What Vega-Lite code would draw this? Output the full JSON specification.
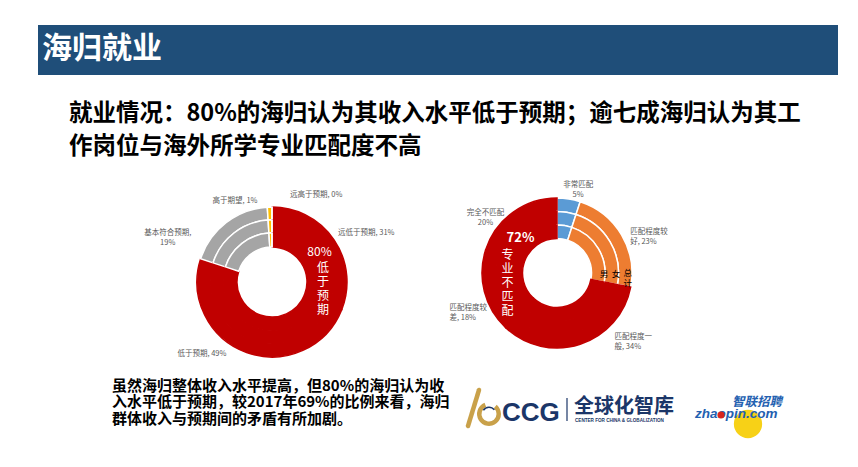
{
"$schema": "https://vega.github.io/schema/vega-lite/v6.json",
"background": "white",
"padding": {"left": 38, "top": 25, "right": 0, "bottom": 0},
"spacing": 0,
"resolve": {"scale": {"fill": "independent", "stroke": "independent", "theta": "independent"}},
"config": {"view": {"stroke": null, "fill": "white"}, "font": "Noto Sans CJK SC", "text": {"font": "Noto Sans CJK SC"}},
"datasets": {
 "income": [
  {"ring": "总计", "cat": "远低于预期", "idx": 1, "value": 31, "label": "远低于预期, 31%"},
  {"ring": "总计", "cat": "低于预期", "idx": 2, "value": 49, "label": "低于预期, 49%"},
  {"ring": "总计", "cat": "基本符合预期", "idx": 3, "value": 19, "label": "基本符合预期,\n19%"},
  {"ring": "总计", "cat": "高于期望", "idx": 4, "value": 1, "label": "高于期望, 1%"},
  {"ring": "总计", "cat": "远高于预期", "idx": 5, "value": 0, "label": "远高于预期, 0%"},
  {"ring": "女", "cat": "远低于预期", "idx": 1, "value": 31, "label": ""},
  {"ring": "女", "cat": "低于预期", "idx": 2, "value": 49, "label": ""},
  {"ring": "女", "cat": "基本符合预期", "idx": 3, "value": 19, "label": ""},
  {"ring": "女", "cat": "高于期望", "idx": 4, "value": 1, "label": ""},
  {"ring": "女", "cat": "远高于预期", "idx": 5, "value": 0, "label": ""},
  {"ring": "男", "cat": "远低于预期", "idx": 1, "value": 31, "label": ""},
  {"ring": "男", "cat": "低于预期", "idx": 2, "value": 49, "label": ""},
  {"ring": "男", "cat": "基本符合预期", "idx": 3, "value": 19, "label": ""},
  {"ring": "男", "cat": "高于期望", "idx": 4, "value": 1, "label": ""},
  {"ring": "男", "cat": "远高于预期", "idx": 5, "value": 0, "label": ""}
 ],
 "match": [
  {"ring": "总计", "cat": "非常匹配", "idx": 1, "value": 5, "label": "非常匹配\n5%"},
  {"ring": "总计", "cat": "匹配程度较好", "idx": 2, "value": 23, "label": "匹配程度较\n好, 23%"},
  {"ring": "总计", "cat": "匹配程度一般", "idx": 3, "value": 34, "label": "匹配程度一\n般, 34%"},
  {"ring": "总计", "cat": "匹配程度较差", "idx": 4, "value": 18, "label": "匹配程度较\n差, 18%"},
  {"ring": "总计", "cat": "完全不匹配", "idx": 5, "value": 20, "label": "完全不匹配\n20%"},
  {"ring": "女", "cat": "非常匹配", "idx": 1, "value": 5, "label": ""},
  {"ring": "女", "cat": "匹配程度较好", "idx": 2, "value": 23, "label": ""},
  {"ring": "女", "cat": "匹配程度一般", "idx": 3, "value": 34, "label": ""},
  {"ring": "女", "cat": "匹配程度较差", "idx": 4, "value": 18, "label": ""},
  {"ring": "女", "cat": "完全不匹配", "idx": 5, "value": 20, "label": ""},
  {"ring": "男", "cat": "非常匹配", "idx": 1, "value": 5, "label": ""},
  {"ring": "男", "cat": "匹配程度较好", "idx": 2, "value": 23, "label": ""},
  {"ring": "男", "cat": "匹配程度一般", "idx": 3, "value": 34, "label": ""},
  {"ring": "男", "cat": "匹配程度较差", "idx": 4, "value": 18, "label": ""},
  {"ring": "男", "cat": "完全不匹配", "idx": 5, "value": 20, "label": ""}
 ]
},
"vconcat": [
 {
  "width": 800, "height": 50,
  "view": {"fill": "#1F4E79", "stroke": null},
  "data": {"values": [{"t": "海归就业"}]},
  "mark": {"type": "text", "x": 4, "y": 24, "align": "left", "baseline": "middle", "fontSize": 30, "fontWeight": "bold", "color": "white"},
  "encoding": {"text": {"field": "t", "type": "nominal"}}
 },
 {
  "width": 800, "height": 105,
  "data": {"values": [{"t": "就业情况：80%的海归认为其收入水平低于预期；逾七成海归认为其工\n作岗位与海外所学专业匹配度不高"}]},
  "mark": {"type": "text", "x": 31, "y": 38.5, "align": "left", "baseline": "middle", "fontSize": 23.5, "fontWeight": "bold", "lineHeight": 33, "lineBreak": "\n", "color": "#000000"},
  "encoding": {"text": {"field": "t", "type": "nominal"}}
 },
 {
  "spacing": 0,
  "resolve": {"scale": {"fill": "independent", "stroke": "independent", "theta": "independent"}},
  "hconcat": [
   {"width": 104, "height": 1, "data": {"values": []}, "mark": "rect"},
   {
    "spacing": 0,
    "vconcat": [
     {"width": 260, "height": 10, "data": {"values": []}, "mark": "rect"},
     {
      "width": 260, "height": 184,
      "data": {"name": "income"},
      "layer": [
       {"transform": [{"filter": "datum.ring === '总计'"}],
        "mark": {"type": "arc", "radius": 75, "radius2": 62, "strokeWidth": 1.5},
        "encoding": {
         "theta": {"field": "value", "type": "quantitative", "stack": true},
         "order": {"field": "idx", "type": "quantitative"},
         "fill": {"field": "cat", "type": "nominal", "scale": {"domain": ["远低于预期","低于预期","基本符合预期","高于期望","远高于预期"], "range": ["#C00000","#C00000","#A5A5A5","#FFC000","#ED7D31"]}, "legend": null},
         "stroke": {"field": "cat", "type": "nominal", "scale": {"domain": ["远低于预期","低于预期","基本符合预期","高于期望","远高于预期"], "range": ["#C00000","#C00000","#FFFFFF","#FFFFFF","#FFFFFF"]}, "legend": null}}},
       {"transform": [{"filter": "datum.ring === '女'"}],
        "mark": {"type": "arc", "radius": 62, "radius2": 49, "strokeWidth": 1.5},
        "encoding": {
         "theta": {"field": "value", "type": "quantitative", "stack": true},
         "order": {"field": "idx", "type": "quantitative"},
         "fill": {"field": "cat", "type": "nominal", "scale": {"domain": ["远低于预期","低于预期","基本符合预期","高于期望","远高于预期"], "range": ["#C00000","#C00000","#A5A5A5","#FFC000","#ED7D31"]}, "legend": null},
         "stroke": {"field": "cat", "type": "nominal", "scale": {"domain": ["远低于预期","低于预期","基本符合预期","高于期望","远高于预期"], "range": ["#C00000","#C00000","#FFFFFF","#FFFFFF","#FFFFFF"]}, "legend": null}}},
       {"transform": [{"filter": "datum.ring === '男'"}],
        "mark": {"type": "arc", "radius": 49, "radius2": 35, "strokeWidth": 1.5},
        "encoding": {
         "theta": {"field": "value", "type": "quantitative", "stack": true},
         "order": {"field": "idx", "type": "quantitative"},
         "fill": {"field": "cat", "type": "nominal", "scale": {"domain": ["远低于预期","低于预期","基本符合预期","高于期望","远高于预期"], "range": ["#C00000","#C00000","#A5A5A5","#FFC000","#ED7D31"]}, "legend": null},
         "stroke": {"field": "cat", "type": "nominal", "scale": {"domain": ["远低于预期","低于预期","基本符合预期","高于期望","远高于预期"], "range": ["#C00000","#C00000","#FFFFFF","#FFFFFF","#FFFFFF"]}, "legend": null}}},
       {"transform": [{"filter": "datum.ring === '总计'"}],
        "mark": {"type": "text", "radius": 87, "align": "left", "baseline": "middle", "dx": -6, "fontSize": 7.5, "lineHeight": 10, "lineBreak": "\n", "color": "#595959"},
        "encoding": {"theta": {"field": "value", "type": "quantitative", "stack": true}, "order": {"field": "idx", "type": "quantitative"},
         "text": {"condition": {"test": "datum.cat === '远低于预期'", "field": "label", "type": "nominal"}, "value": ""}}},
       {"transform": [{"filter": "datum.ring === '总计'"}],
        "mark": {"type": "text", "radius": 77, "align": "center", "baseline": "middle", "dx": -44, "fontSize": 7.5, "lineHeight": 10, "lineBreak": "\n", "color": "#595959"},
        "encoding": {"theta": {"field": "value", "type": "quantitative", "stack": true}, "order": {"field": "idx", "type": "quantitative"},
         "text": {"condition": {"test": "datum.cat === '低于预期'", "field": "label", "type": "nominal"}, "value": ""}}},
       {"transform": [{"filter": "datum.ring === '总计'"}],
        "mark": {"type": "text", "radius": 56, "align": "center", "baseline": "middle", "dx": -70, "dy": -5, "fontSize": 7.5, "lineHeight": 10, "lineBreak": "\n", "color": "#595959"},
        "encoding": {"theta": {"field": "value", "type": "quantitative", "stack": true}, "order": {"field": "idx", "type": "quantitative"},
         "text": {"condition": {"test": "datum.cat === '基本符合预期'", "field": "label", "type": "nominal"}, "value": ""}}},
       {"transform": [{"filter": "datum.ring === '总计'"}],
        "mark": {"type": "text", "radius": 81, "align": "right", "baseline": "middle", "dx": -12, "fontSize": 7.5, "lineHeight": 10, "lineBreak": "\n", "color": "#595959"},
        "encoding": {"theta": {"field": "value", "type": "quantitative", "stack": true}, "order": {"field": "idx", "type": "quantitative"},
         "text": {"condition": {"test": "datum.cat === '高于期望'", "field": "label", "type": "nominal"}, "value": ""}}},
       {"transform": [{"filter": "datum.ring === '总计'"}],
        "mark": {"type": "text", "radius": 87, "align": "left", "baseline": "middle", "dx": 18, "fontSize": 7.5, "lineHeight": 10, "lineBreak": "\n", "color": "#595959"},
        "encoding": {"theta": {"field": "value", "type": "quantitative", "stack": true}, "order": {"field": "idx", "type": "quantitative"},
         "text": {"condition": {"test": "datum.cat === '远高于预期'", "field": "label", "type": "nominal"}, "value": ""}}},
       {"data": {"values": [{"t": "80%"}]},
        "mark": {"type": "text", "radius": 47, "align": "center", "baseline": "middle", "dx": 0.5, "dy": -30.5, "fontSize": 12, "color": "white"},
        "encoding": {"theta": {"datum": 25}, "text": {"field": "t", "type": "nominal"}}},
       {"data": {"values": [{"t": "低\n于\n预\n期"}]},
        "mark": {"type": "text", "radius": 47, "align": "center", "baseline": "middle", "dx": 4, "dy": -14.5, "fontSize": 12, "lineHeight": 14.3, "lineBreak": "\n", "color": "white"},
        "encoding": {"theta": {"datum": 25}, "text": {"field": "t", "type": "nominal"}}}
      ]
     }
    ]
   },
   {
    "width": 310, "height": 186,
    "data": {"name": "match"},
    "layer": [
     {"transform": [{"filter": "datum.ring === '总计'"}],
      "mark": {"type": "arc", "radius": 75, "radius2": 61.5, "strokeWidth": 1.5},
      "encoding": {
       "theta": {"field": "value", "type": "quantitative", "stack": true},
       "order": {"field": "idx", "type": "quantitative"},
       "fill": {"field": "cat", "type": "nominal", "scale": {"domain": ["非常匹配","匹配程度较好","匹配程度一般","匹配程度较差","完全不匹配"], "range": ["#5B9BD5","#ED7D31","#C00000","#C00000","#C00000"]}, "legend": null},
       "stroke": {"field": "cat", "type": "nominal", "scale": {"domain": ["非常匹配","匹配程度较好","匹配程度一般","匹配程度较差","完全不匹配"], "range": ["#FFFFFF","#FFFFFF","#C00000","#C00000","#C00000"]}, "legend": null}}},
     {"transform": [{"filter": "datum.ring === '女'"}],
      "mark": {"type": "arc", "radius": 61.5, "radius2": 48, "strokeWidth": 1.5},
      "encoding": {
       "theta": {"field": "value", "type": "quantitative", "stack": true},
       "order": {"field": "idx", "type": "quantitative"},
       "fill": {"field": "cat", "type": "nominal", "scale": {"domain": ["非常匹配","匹配程度较好","匹配程度一般","匹配程度较差","完全不匹配"], "range": ["#5B9BD5","#ED7D31","#C00000","#C00000","#C00000"]}, "legend": null},
       "stroke": {"field": "cat", "type": "nominal", "scale": {"domain": ["非常匹配","匹配程度较好","匹配程度一般","匹配程度较差","完全不匹配"], "range": ["#FFFFFF","#FFFFFF","#C00000","#C00000","#C00000"]}, "legend": null}}},
     {"transform": [{"filter": "datum.ring === '男'"}],
      "mark": {"type": "arc", "radius": 48, "radius2": 34.5, "strokeWidth": 1.5},
      "encoding": {
       "theta": {"field": "value", "type": "quantitative", "stack": true},
       "order": {"field": "idx", "type": "quantitative"},
       "fill": {"field": "cat", "type": "nominal", "scale": {"domain": ["非常匹配","匹配程度较好","匹配程度一般","匹配程度较差","完全不匹配"], "range": ["#5B9BD5","#ED7D31","#C00000","#C00000","#C00000"]}, "legend": null},
       "stroke": {"field": "cat", "type": "nominal", "scale": {"domain": ["非常匹配","匹配程度较好","匹配程度一般","匹配程度较差","完全不匹配"], "range": ["#FFFFFF","#FFFFFF","#C00000","#C00000","#C00000"]}, "legend": null}}},
     {"transform": [{"filter": "datum.ring === '总计'"}],
      "mark": {"type": "text", "radius": 84, "align": "center", "baseline": "middle", "dx": 8, "dy": -5, "fontSize": 7.5, "lineHeight": 10, "lineBreak": "\n", "color": "#595959"},
      "encoding": {"theta": {"field": "value", "type": "quantitative", "stack": true}, "order": {"field": "idx", "type": "quantitative"},
       "text": {"condition": {"test": "datum.cat === '非常匹配'", "field": "label", "type": "nominal"}, "value": ""}}},
     {"transform": [{"filter": "datum.ring === '总计'"}],
      "mark": {"type": "text", "radius": 85, "align": "left", "baseline": "middle", "dy": 2, "fontSize": 7.5, "lineHeight": 10, "lineBreak": "\n", "color": "#595959"},
      "encoding": {"theta": {"field": "value", "type": "quantitative", "stack": true}, "order": {"field": "idx", "type": "quantitative"},
       "text": {"condition": {"test": "datum.cat === '匹配程度较好'", "field": "label", "type": "nominal"}, "value": ""}}},
     {"transform": [{"filter": "datum.ring === '总计'"}],
      "mark": {"type": "text", "radius": 73, "align": "left", "baseline": "middle", "dx": 35, "dy": -5, "fontSize": 7.5, "lineHeight": 10, "lineBreak": "\n", "color": "#595959"},
      "encoding": {"theta": {"field": "value", "type": "quantitative", "stack": true}, "order": {"field": "idx", "type": "quantitative"},
       "text": {"condition": {"test": "datum.cat === '匹配程度一般'", "field": "label", "type": "nominal"}, "value": ""}}},
     {"transform": [{"filter": "datum.ring === '总计'"}],
      "mark": {"type": "text", "radius": 80, "align": "left", "baseline": "middle", "dx": -30, "dy": 15, "fontSize": 7.5, "lineHeight": 10, "lineBreak": "\n", "color": "#595959"},
      "encoding": {"theta": {"field": "value", "type": "quantitative", "stack": true}, "order": {"field": "idx", "type": "quantitative"},
       "text": {"condition": {"test": "datum.cat === '匹配程度较差'", "field": "label", "type": "nominal"}, "value": ""}}},
     {"transform": [{"filter": "datum.ring === '总计'"}],
      "mark": {"type": "text", "radius": 69, "align": "center", "baseline": "middle", "dx": -31, "dy": -4, "fontSize": 7.5, "lineHeight": 10, "lineBreak": "\n", "color": "#595959"},
      "encoding": {"theta": {"field": "value", "type": "quantitative", "stack": true}, "order": {"field": "idx", "type": "quantitative"},
       "text": {"condition": {"test": "datum.cat === '完全不匹配'", "field": "label", "type": "nominal"}, "value": ""}}},
     {"data": {"values": [{"t": "72%"}]},
      "mark": {"type": "text", "radius": 47, "align": "center", "baseline": "middle", "dx": 10.5, "dy": -35, "fontSize": 13, "fontWeight": "bold", "color": "white"},
      "encoding": {"theta": {"datum": 75}, "text": {"field": "t", "type": "nominal"}}},
     {"data": {"values": [{"t": "专\n业\n不\n匹\n配"}]},
      "mark": {"type": "text", "radius": 47, "align": "center", "baseline": "middle", "dx": -2.5, "dy": -18.5, "fontSize": 12, "lineHeight": 14, "lineBreak": "\n", "color": "white"},
      "encoding": {"theta": {"datum": 75}, "text": {"field": "t", "type": "nominal"}}},
     {"data": {"values": [{"t": "男"}]},
      "mark": {"type": "text", "radius": 47, "align": "center", "baseline": "middle", "fontSize": 8.5, "color": "#000000"},
      "encoding": {"theta": {"datum": 25.3}, "text": {"field": "t", "type": "nominal"}}},
     {"data": {"values": [{"t": "女"}]},
      "mark": {"type": "text", "radius": 59, "align": "center", "baseline": "middle", "fontSize": 8.5, "color": "#000000"},
      "encoding": {"theta": {"datum": 25.3}, "text": {"field": "t", "type": "nominal"}}},
     {"data": {"values": [{"t": "总\n计"}]},
      "mark": {"type": "text", "radius": 71, "align": "center", "baseline": "middle", "dy": -5, "fontSize": 8.5, "lineHeight": 10, "lineBreak": "\n", "color": "#000000"},
      "encoding": {"theta": {"datum": 26.2}, "text": {"field": "t", "type": "nominal"}}}
    ]
   }
  ]
 },
 {
  "width": 800, "height": 93,
  "layer": [
   {"data": {"values": [{"k": 1}]}, "mark": {"type": "point", "x": 710, "y": 50, "size": 800, "filled": true, "opacity": 1, "color": "#F7D117"}},
   {"data": {"values": [{"k": 1}]}, "mark": {"type": "rule", "strokeWidth": 4.5, "strokeCap": "round", "color": "#C9A14A"},
    "encoding": {"x": {"value": 430}, "y": {"value": 52}, "x2": {"value": 441}, "y2": {"value": 16}}},
   {"data": {"values": [{"k": 1}]}, "mark": {"type": "arc", "x": 451, "y": 40, "radius": 12, "radius2": 7.5, "theta": 0.7, "theta2": 5.9, "color": "#C9A14A"}},
   {"data": {"values": [{"k": 1}]}, "mark": {"type": "arc", "x": 451, "y": 40, "radius": 7.5, "radius2": 6, "theta": 5.3, "theta2": 7.2, "color": "#1B3668"}},
   {"data": {"values": [{"t": "虽然海归整体收入水平提高，但80%的海归认为收\n入水平低于预期，较2017年69%的比例来看，海归\n群体收入与预期间的矛盾有所加剧。"}]},
    "mark": {"type": "text", "x": 74, "y": 11.5, "align": "left", "baseline": "middle", "fontSize": 15, "fontWeight": "bold", "lineHeight": 16.8, "lineBreak": "\n", "color": "#000000"},
    "encoding": {"text": {"field": "t", "type": "nominal"}}},
   {"data": {"values": [{"t": "CCG"}]},
    "mark": {"type": "text", "x": 464, "y": 46.5, "align": "left", "baseline": "alphabetic", "fontSize": 26, "fontWeight": "bold", "font": "Liberation Sans", "color": "#1B3668"},
    "encoding": {"text": {"field": "t", "type": "nominal"}}},
   {"data": {"values": [{"k": 1}]}, "mark": {"type": "rule", "strokeWidth": 1.2, "color": "#1B3668"},
    "encoding": {"x": {"value": 529}, "y": {"value": 24}, "x2": {"value": 529}, "y2": {"value": 47}}},
   {"data": {"values": [{"t": "全球化智库"}]},
    "mark": {"type": "text", "x": 536, "y": 33, "align": "left", "baseline": "middle", "fontSize": 20, "fontWeight": "bold", "color": "#1B3668"},
    "encoding": {"text": {"field": "t", "type": "nominal"}}},
   {"data": {"values": [{"t": "CENTER FOR CHINA & GLOBALIZATION"}]},
    "mark": {"type": "text", "x": 537, "y": 46.5, "align": "left", "baseline": "middle", "fontSize": 4.6, "fontWeight": "bold", "font": "Liberation Sans", "color": "#1B3668"},
    "encoding": {"text": {"field": "t", "type": "nominal"}}},
   {"data": {"values": [{"t": "智联招聘"}]},
    "mark": {"type": "text", "x": 694, "y": 27.5, "align": "left", "baseline": "middle", "fontSize": 12.5, "fontWeight": "bold", "fontStyle": "italic", "color": "#2360B0"},
    "encoding": {"text": {"field": "t", "type": "nominal"}}},
   {"data": {"values": [{"t": "zhaopin.com"}]},
    "mark": {"type": "text", "x": 657, "y": 40, "align": "left", "baseline": "middle", "fontSize": 13.5, "fontWeight": "bold", "fontStyle": "italic", "font": "Liberation Sans", "color": "#2360B0"},
    "encoding": {"text": {"field": "t", "type": "nominal"}}},
   {"data": {"values": [{"k": 1}]}, "mark": {"type": "point", "x": 683, "y": 41, "size": 50, "filled": true, "opacity": 1, "color": "#D7261E"}}
  ]
 }
]
}
